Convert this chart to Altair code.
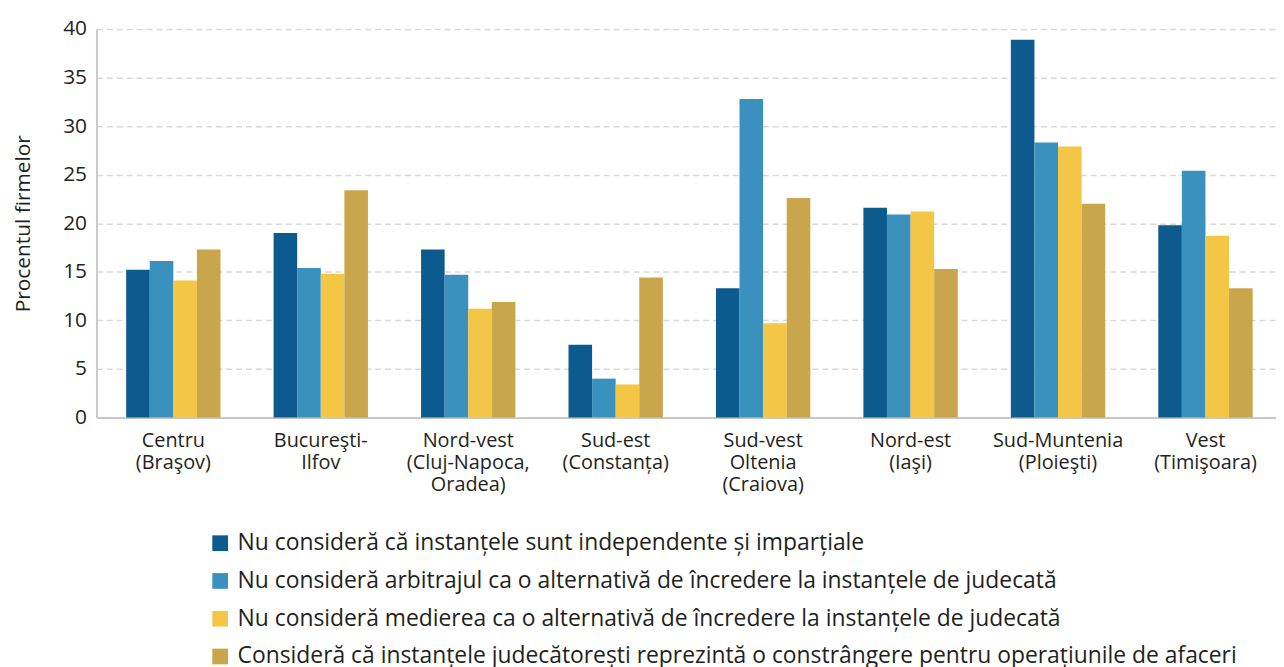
import altair as alt
import pandas as pd

regions = ["Centru|(Braşov)", "Bucureşti-|Ilfov", "Nord-vest|(Cluj-Napoca,|Oradea)",
           "Sud-est|(Constanța)", "Sud-vest|Oltenia|(Craiova)", "Nord-est|(Iaşi)",
           "Sud-Muntenia|(Ploieşti)", "Vest|(Timişoara)"]
series = [
    "Nu consideră că instanțele sunt independente și imparțiale",
    "Nu consideră arbitrajul ca o alternativă de încredere la instanțele de judecată",
    "Nu consideră medierea ca o alternativă de încredere la instanțele de judecată",
    "Consideră că instanțele judecătorești reprezintă o constrângere pentru operațiunile de afaceri",
]
colors = ["#0d5a8f", "#3b91bd", "#f4c645", "#c9a64b"]

s1 = [15.2, 19.0, 17.3, 7.5, 13.3, 21.6, 38.9, 19.8]
s2 = [16.1, 15.4, 14.7, 4.0, 32.8, 20.9, 28.3, 25.4]
s3 = [14.1, 14.8, 11.2, 3.4, 9.7, 21.2, 27.9, 18.7]
s4 = [17.3, 23.4, 11.9, 14.4, 22.6, 15.3, 22.0, 13.3]

rows = []
for si, vals in enumerate([s1, s2, s3, s4]):
    for r, v in zip(regions, vals):
        rows.append({"region": r, "series": series[si], "value": v, "order": si})
df = pd.DataFrame(rows)

FONT = "Open Sans"
TXT = "#231f20"

chart = alt.Chart(df).mark_bar().encode(
    x=alt.X("region:N", sort=regions, title=None,
            scale=alt.Scale(paddingInner=0.36, paddingOuter=0.18, align=0.56),
            axis=alt.Axis(labelAngle=0, labelExpr="split(datum.label, '|')",
                          labelFontSize=20, labelColor=TXT, labelFont=FONT,
                          labelPadding=13, labelLineHeight=22, ticks=False,
                          labelBaseline="top",
                          domainColor="#c8c8c8", domainWidth=2)),
    xOffset=alt.XOffset("series:N", sort=series, scale=alt.Scale(paddingInner=0, paddingOuter=0)),
    y=alt.Y("value:Q", title="Procentul firmelor",
            scale=alt.Scale(domain=[0, 40]),
            axis=alt.Axis(values=[0, 5, 10, 15, 20, 25, 30, 35, 40], ticks=False,
                          labelFontSize=21, labelColor=TXT, labelFont=FONT,
                          labelPadding=10, domainColor="#c8c8c8", domainWidth=2,
                          gridDash=[6, 4], gridColor="#d9d9d9", gridWidth=1.5,
                          titleFontSize=21, titleFont=FONT, titleFontWeight="normal",
                          titleColor=TXT, titlePadding=29)),
    color=alt.Color("series:N", sort=series,
                    scale=alt.Scale(domain=series, range=colors),
                    legend=alt.Legend(title=None, orient="none", legendX=113, legendY=506,
                                      direction="vertical", symbolType="square",
                                      symbolSize=250, symbolStrokeWidth=0,
                                      labelFontSize=23, labelFont=FONT, labelColor=TXT,
                                      rowPadding=14, labelLimit=1200, symbolOffset=0,
                                      labelOffset=6)),
).properties(
    width=1187, height=391,
    autosize=alt.AutoSizeParams(type="none"),
    padding={"left": 89, "top": 19, "right": 0, "bottom": 249},
).configure_view(stroke=None)

chart.save("out.html", embed_options={"renderer": "svg", "actions": False})
